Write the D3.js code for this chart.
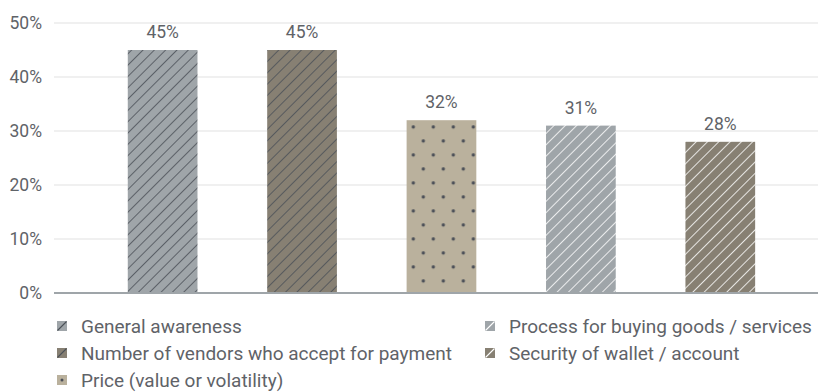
<!DOCTYPE html>
<html>
<head>
<meta charset="utf-8">
<script src="https://cdn.jsdelivr.net/npm/d3@7/dist/d3.min.js"></script>
<style>
  html, body { margin: 0; padding: 0; background: #fff; }
  svg { display: block; font-family: Roboto, "Noto Sans", sans-serif; }
</style>
</head>
<body>
<svg id="chart" width="818" height="392"></svg>
<script>
// Reasons cited, share of respondents (%)
const categories = [
  "General awareness",
  "Number of vendors who accept for payment",
  "Price (value or volatility)",
  "Process for buying goods / services",
  "Security of wallet / account"
];
const values = [45, 45, 32, 31, 28];
const yTicks = [0, 10, 20, 30, 40, 50];
const legendOrder = [0, 3, 1, 4, 2];

// Fill style per bar: base colour, mark kind, mark colour
const fills = ["#9fa5a9", "#878073", "#bab19d", "#9fa5a9", "#878073"];
const marks = ["line", "line", "dot", "line", "line"];
const markColors = ["#4b5057", "#4b5057", "#4a4e57", "#ffffff", "#ffffff"];

const svg = d3.select("#chart");
const textColor = "#5f6368";

const x = d3.scaleBand()
  .domain(d3.range(categories.length))
  .range([54, 818])
  .paddingInner(0.5)
  .paddingOuter(0.49)
  .align(0.54);

const y = d3.scaleLinear().domain([0, 50]).range([293, 23]);

// Patterns
const defs = svg.append("defs");
categories.forEach((c, i) => {
  if (marks[i] === "line") {
    const p = defs.append("pattern")
      .attr("id", "pat" + i)
      .attr("patternUnits", "userSpaceOnUse")
      .attr("width", 8).attr("height", 8)
      .attr("patternTransform", "rotate(45)");
    p.append("rect").attr("width", 8).attr("height", 8).attr("fill", fills[i]);
    p.append("line").attr("x1", 0).attr("y1", 0).attr("x2", 0).attr("y2", 8)
      .attr("stroke", markColors[i]).attr("stroke-width", 1.6);
  } else {
    const bx = x(i), by = y(values[i]);
    const p = defs.append("pattern")
      .attr("id", "pat" + i)
      .attr("patternUnits", "userSpaceOnUse")
      .attr("width", 20).attr("height", 28)
      .attr("patternTransform", `translate(${bx},${by})`);
    p.append("rect").attr("width", 20).attr("height", 28).attr("fill", fills[i]);
    [[6.7, 6.7], [16.7, 20.7]].forEach(([cx, cy]) =>
      p.append("circle").attr("cx", cx).attr("cy", cy).attr("r", 1.7).attr("fill", markColors[i]));
  }
});

// Gridlines
svg.append("g")
  .selectAll("line")
  .data(yTicks.filter(t => t > 0))
  .join("line")
  .attr("x1", 54).attr("x2", 818)
  .attr("y1", d => y(d)).attr("y2", d => y(d))
  .attr("stroke", "#ebebeb").attr("stroke-width", 1.5);

// Y axis labels
const yAxis = svg.append("g")
  .attr("transform", "translate(42,0)")
  .call(d3.axisLeft(y).tickValues(yTicks).tickSize(0).tickPadding(0).tickFormat(d => d + "%"));
yAxis.select(".domain").remove();
yAxis.selectAll("text")
  .attr("fill", textColor)
  .style("font-size", "17.5px")
  .style("font-family", "Roboto, sans-serif");

// Bars
svg.append("g")
  .selectAll("rect")
  .data(values)
  .join("rect")
  .attr("x", (d, i) => x(i))
  .attr("y", d => y(d))
  .attr("width", x.bandwidth())
  .attr("height", d => y(0) - y(d))
  .attr("fill", (d, i) => `url(#pat${i})`);

// Value labels
svg.append("g")
  .selectAll("text")
  .data(values)
  .join("text")
  .attr("x", (d, i) => x(i) + x.bandwidth() / 2)
  .attr("y", d => y(d) - 12)
  .attr("text-anchor", "middle")
  .attr("fill", textColor)
  .style("font-size", "17.5px")
  .text(d => d + "%");

// Baseline
svg.append("line")
  .attr("x1", 54).attr("x2", 818)
  .attr("y1", y(0)).attr("y2", y(0))
  .attr("stroke", "#9fa5a9").attr("stroke-width", 2);

// Legend
const legendCols = [57, 485];
const legendRows = [326, 353, 380];
const legend = svg.append("g");
legendOrder.forEach((ci, k) => {
  const lx = legendCols[k % 2];
  const ly = legendRows[Math.floor(k / 2)];
  const g = legend.append("g").attr("transform", `translate(${lx},${ly})`);
  g.append("rect").attr("x", 0).attr("y", -5).attr("width", 10).attr("height", 10).attr("fill", fills[ci]);
  if (marks[ci] === "line") {
    g.append("line").attr("x1", 0.5).attr("y1", 4.5).attr("x2", 9.5).attr("y2", -4.5)
      .attr("stroke", markColors[ci]).attr("stroke-width", 1.1);
  } else {
    g.append("circle").attr("cx", 5).attr("cy", 0).attr("r", 1.5).attr("fill", markColors[ci]);
  }
  g.append("text")
    .attr("x", 24).attr("y", 0)
    .attr("dy", "0.35em")
    .attr("fill", textColor)
    .style("font-size", "19px")
    .text(categories[ci]);
});
</script>
</body>
</html>
